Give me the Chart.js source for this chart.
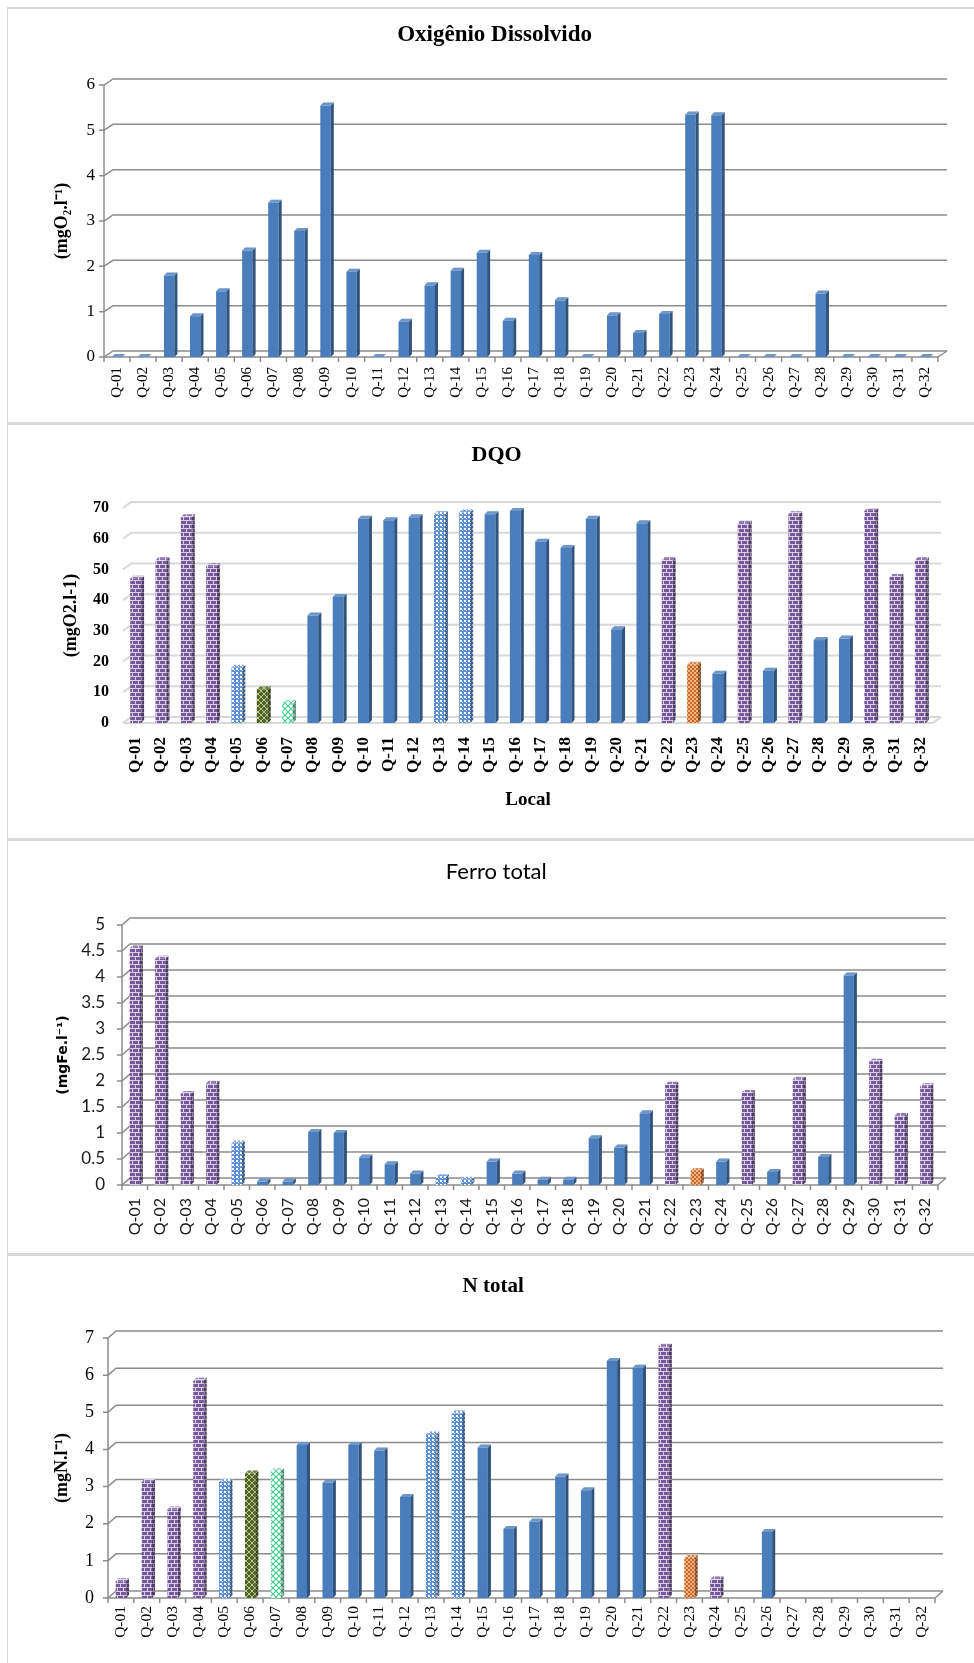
<!DOCTYPE html>
<html><head><meta charset="utf-8">
<script src="https://cdn.jsdelivr.net/npm/chart.js@4.4.1/dist/chart.umd.min.js"></script>
<style>
body{margin:0;background:#fff;width:974px;height:1663px;overflow:hidden;position:relative}
canvas{position:absolute;left:0}
.hl{position:absolute;left:7px;right:0;background:#d9d9d9}
.vl{position:absolute;left:7px;top:8px;width:1px;height:1655px;background:#d9d9d9}
</style></head><body>
<canvas id="c1" width="974" height="416" style="top:8px"></canvas>
<canvas id="c2" width="974" height="416" style="top:424px"></canvas>
<canvas id="c3" width="974" height="415" style="top:840px"></canvas>
<canvas id="c4" width="974" height="408" style="top:1255px"></canvas>
<div class="hl" style="top:7px;height:2px"></div>
<div class="hl" style="top:422px;height:3px"></div>
<div class="hl" style="top:838px;height:3px"></div>
<div class="hl" style="top:1253px;height:3px"></div>
<div class="vl"></div>
<script>
// ---------- data ----------
const sites = ['Q-01','Q-02','Q-03','Q-04','Q-05','Q-06','Q-07','Q-08','Q-09','Q-10','Q-11','Q-12','Q-13','Q-14','Q-15','Q-16',
               'Q-17','Q-18','Q-19','Q-20','Q-21','Q-22','Q-23','Q-24','Q-25','Q-26','Q-27','Q-28','Q-29','Q-30','Q-31','Q-32'];

const odValues  = [0,0,1.8,0.9,1.45,2.35,3.4,2.78,5.55,1.88,0,0.78,1.58,1.9,2.3,0.8,2.25,1.25,0,0.92,0.53,0.95,5.35,5.33,0,0,0,1.4,0,0,0,0];
const odTypes   = ['B','B','B','B','B','B','B','B','B','B','B','B','B','B','B','B','B','B','B','B','B','B','B','B','B','B','B','B','B','B','B','B'];
const odTicks   = {max:6, step:1};

const dqoValues = [47,53,67,51,18,11,6.5,35,41,66.5,66,67,68,68.5,68,69,59,57,66.5,30.5,65,53,19,16,65,17,68,27,27.5,69,47.5,53];
const dqoTypes  = ['P','P','P','P','D','G','M','B','B','B','B','B','D','D','B','B','B','B','B','B','B','P','O','B','P','B','P','B','B','P','P','P'];
const dqoTicks  = {max:70, step:10};

const feValues  = [4.55,4.35,1.75,1.95,0.8,0.07,0.07,1.02,1.0,0.53,0.4,0.22,0.15,0.1,0.45,0.22,0.1,0.1,0.9,0.72,1.38,1.93,0.27,0.45,1.77,0.25,2.03,0.54,4.03,2.37,1.33,1.9];
const feTypes   = ['P','P','P','P','D','B','B','B','B','B','B','B','D','D','B','B','B','B','B','B','B','P','O','B','P','B','P','B','B','P','P','P'];
const feTicks   = {max:5, step:0.5};

const nValues   = [0.45,3.12,2.38,5.85,3.12,3.35,3.42,4.12,3.1,4.12,3.97,2.72,4.4,4.97,4.05,1.86,2.06,3.27,2.9,6.38,6.2,6.77,1.08,0.5,null,1.78,null,null,null,null,null,null];
const nTypes    = ['P','P','P','P','D','G','M','B','B','B','B','B','D','D','B','B','B','B','B','B','B','P','O','P','B','B','B','B','B','B','B','B'];
const nTicks    = {max:7, step:1};

// ---------- fills / patterns ----------
function tile(w,h,draw){const c=document.createElement('canvas');c.width=w;c.height=h;const x=c.getContext('2d');draw(x);return x.createPattern(c,'repeat');}
const fills = {
  B: '#4a7dbb',
  P: tile(6,8,x=>{x.fillStyle='#75599b';x.fillRect(0,0,6,8);x.fillStyle='#d9d0e7';x.fillRect(0,0,6,1);x.fillRect(0,4,6,1);x.fillRect(0,1,1,3);x.fillRect(3,5,1,3);}),
  D: tile(4,4,x=>{x.fillStyle='#5a90d6';x.fillRect(0,0,4,4);x.fillStyle='#ffffff';x.fillRect(0,0,2,2);x.fillRect(2,2,1,1);}),
  G: tile(6,6,x=>{x.fillStyle='#4f6228';x.fillRect(0,0,6,6);x.strokeStyle='#b5cc8a';x.lineWidth=1;x.beginPath();x.moveTo(0,0);x.lineTo(6,6);x.moveTo(6,0);x.lineTo(0,6);x.stroke();}),
  M: tile(6,6,x=>{x.fillStyle='#ffffff';x.fillRect(0,0,6,6);x.strokeStyle='#3fcf8e';x.lineWidth=1.2;x.beginPath();x.moveTo(0,0);x.lineTo(6,6);x.moveTo(6,0);x.lineTo(0,6);x.stroke();}),
  O: tile(4,4,x=>{x.fillStyle='#f6b482';x.fillRect(0,0,4,4);x.fillStyle='#c9672b';x.fillRect(0,0,2,2);x.fillRect(2,2,2,2);})
};

// ---------- pseudo 3D plugin ----------
const pseudo3d = {
  id:'pseudo3d',
  beforeDatasetsDraw(chart, args, o){
    const {ctx, chartArea:{left,right,top,bottom}, scales:{x,y}} = chart;
    ctx.save();
    ctx.strokeStyle=o.gridColor; ctx.lineWidth=o.gridWidth; ctx.lineCap='butt';
    y.ticks.forEach(t=>{
      const py=y.getPixelForValue(t.value);
      ctx.beginPath();
      ctx.moveTo(left-(o.axis?5:0),py); ctx.lineTo(left,py);
      ctx.lineTo(left+o.dx,py-o.dy); ctx.lineTo(right+o.dx,py-o.dy);
      ctx.stroke();
    });
    ctx.beginPath(); ctx.moveTo(left,bottom); ctx.lineTo(right,bottom); ctx.lineTo(right+o.dx,bottom-o.dy); ctx.stroke();
    if(o.axis){
      ctx.beginPath(); ctx.moveTo(left,top); ctx.lineTo(left,bottom); ctx.stroke();
      const n=chart.data.labels.length;
      for(let i=0;i<=n;i++){const px=left+i*(right-left)/n; ctx.beginPath(); ctx.moveTo(px,bottom); ctx.lineTo(px,bottom+5); ctx.stroke();}
    }
    ctx.restore();
  },
  afterDatasetsDraw(chart, args, o){
    const ctx=chart.ctx, meta=chart.getDatasetMeta(0), ds=chart.data.datasets[0], d=o.depth;
    ctx.save();
    meta.data.forEach((bar,i)=>{
      const v=ds.data[i]; if(v===null||v===undefined) return;
      const {x,y,base,width}=bar.getProps(['x','y','base','width'],true);
      const l=x-width/2, r=x+width/2, f=fills[o.types[i]];
      ctx.beginPath(); ctx.moveTo(r,y); ctx.lineTo(r+d,y-d); ctx.lineTo(r+d,base-d); ctx.lineTo(r,base); ctx.closePath();
      ctx.fillStyle=f; ctx.fill(); ctx.fillStyle='rgba(0,0,0,0.33)'; ctx.fill();
      ctx.beginPath(); ctx.moveTo(l,y); ctx.lineTo(l+d,y-d); ctx.lineTo(r+d,y-d); ctx.lineTo(r,y); ctx.closePath();
      ctx.fillStyle=f; ctx.fill(); ctx.fillStyle='rgba(255,255,255,0.2)'; ctx.fill();
    });
    ctx.restore();
  }
};

const SERIF="'Liberation Serif','Times New Roman',serif";
function build(id,g){
  const W=974;
  const tLH=g.titleFont.size*1.2, yLH=g.yTitleFont.size*1.2;
  const padLeft=g.yTitleX-yLH/2, padTop=g.titleY-tLH/2;
  const xTitle = g.xTitle ? {display:true,text:g.xTitle,color:'#000',font:Object.assign({lineHeight:1.2},g.xTitleFont),
                   padding:{top:0,bottom:g.H-g.xTitleY-g.xTitleFont.size*0.6}} : {display:false};
  new Chart(document.getElementById(id),{
    type:'bar',
    data:{labels:sites,datasets:[{data:g.values,backgroundColor:c=>fills[g.types[c.dataIndex]],borderWidth:0,barPercentage:g.barPct,categoryPercentage:1}]},
    options:{
      responsive:false,animation:false,devicePixelRatio:1,
      layout:{padding:{left:padLeft,right:W-g.right,top:0,bottom:0}},
      plugins:{
        legend:{display:false},tooltip:{enabled:false},
        title:{display:true,text:g.title,color:'#000',font:Object.assign({lineHeight:1.2},g.titleFont),padding:{top:padTop,bottom:g.top-padTop-tLH}},
        pseudo3d:{dx:g.dx,dy:g.dy,depth:3,gridColor:g.gridColor,gridWidth:g.gridWidth,axis:g.axis,types:g.types}
      },
      scales:{
        x:{grid:{display:false,drawTicks:false},border:{display:false},
           ticks:{autoSkip:false,maxRotation:90,minRotation:90,padding:g.xPad,color:g.tickColor,font:g.xFont},
           title:xTitle, afterFit:s=>{s.height=g.H-g.bottom;}},
        y:{min:0,max:g.ticks.max,grid:{display:false,drawTicks:false},border:{display:false},
           ticks:{stepSize:g.ticks.step,padding:g.yPad,color:g.tickColor,font:g.yFont,callback:v=>String(Math.round(v*100)/100)},
           title:{display:true,text:g.yTitle,color:'#000',font:Object.assign({lineHeight:1.2},g.yTitleFont),padding:{top:0,bottom:0}},
           afterFit:s=>{s.width=g.axisX-padLeft;}}
      }
    },
    plugins:[pseudo3d]
  });
}

build('c1',{H:416,values:odValues,types:odTypes,ticks:odTicks,title:'Oxigênio Dissolvido',
  titleFont:{family:SERIF,size:23,weight:'bold'},titleY:27,
  yTitle:'(mgO₂.l⁻¹)',yTitleFont:{family:SERIF,size:18,weight:'bold'},yTitleX:62,
  axisX:104,right:938,top:77,bottom:349,dx:9,dy:6,gridColor:'#8c8c8c',gridWidth:1.5,axis:true,
  barPct:0.4,xPad:10,yPad:9,tickColor:'#000',xFont:{family:SERIF,size:15},yFont:{family:SERIF,size:17}});

build('c2',{H:416,values:dqoValues,types:dqoTypes,ticks:dqoTicks,title:'DQO',
  titleFont:{family:SERIF,size:22,weight:'bold'},titleY:31,
  yTitle:'(mgO2.l-1)',yTitleFont:{family:SERIF,size:18,weight:'bold'},yTitleX:71,
  xTitle:'Local',xTitleFont:{family:SERIF,size:19,weight:'bold'},xTitleY:376,
  axisX:123,right:933,top:84,bottom:299,dx:8,dy:6,gridColor:'#d9d9d9',gridWidth:2,axis:false,
  barPct:0.43,xPad:14,yPad:14,tickColor:'#000',xFont:{family:SERIF,size:17,weight:'bold'},yFont:{family:SERIF,size:16,weight:'bold'}});

build('c3',{H:415,values:feValues,types:feTypes,ticks:feTicks,title:'Ferro total',
  titleFont:{family:'Lato',size:22,weight:'normal'},titleY:32,
  yTitle:'(mgFe.l⁻¹)',yTitleFont:{family:'DejaVu Sans',size:14,weight:'bold'},yTitleX:63,
  axisX:122,right:938,top:85,bottom:345,dx:8,dy:7,gridColor:'#8c8c8c',gridWidth:1.5,axis:true,
  barPct:0.4,xPad:13,yPad:17,tickColor:'#1a1a1a',xFont:{family:'Lato',size:16},yFont:{family:'Lato',size:17}});

build('c4',{H:408,values:nValues,types:nTypes,ticks:nTicks,title:'N total',
  titleFont:{family:SERIF,size:21,weight:'bold'},titleY:32,
  yTitle:'(mgN.l⁻¹)',yTitleFont:{family:SERIF,size:18,weight:'bold'},yTitleX:62,
  axisX:108,right:935,top:83,bottom:343,dx:8,dy:7,gridColor:'#8c8c8c',gridWidth:1.5,axis:true,
  barPct:0.4,xPad:8,yPad:14,tickColor:'#000',xFont:{family:SERIF,size:15.5},yFont:{family:SERIF,size:18}});
</script>
</body></html>
